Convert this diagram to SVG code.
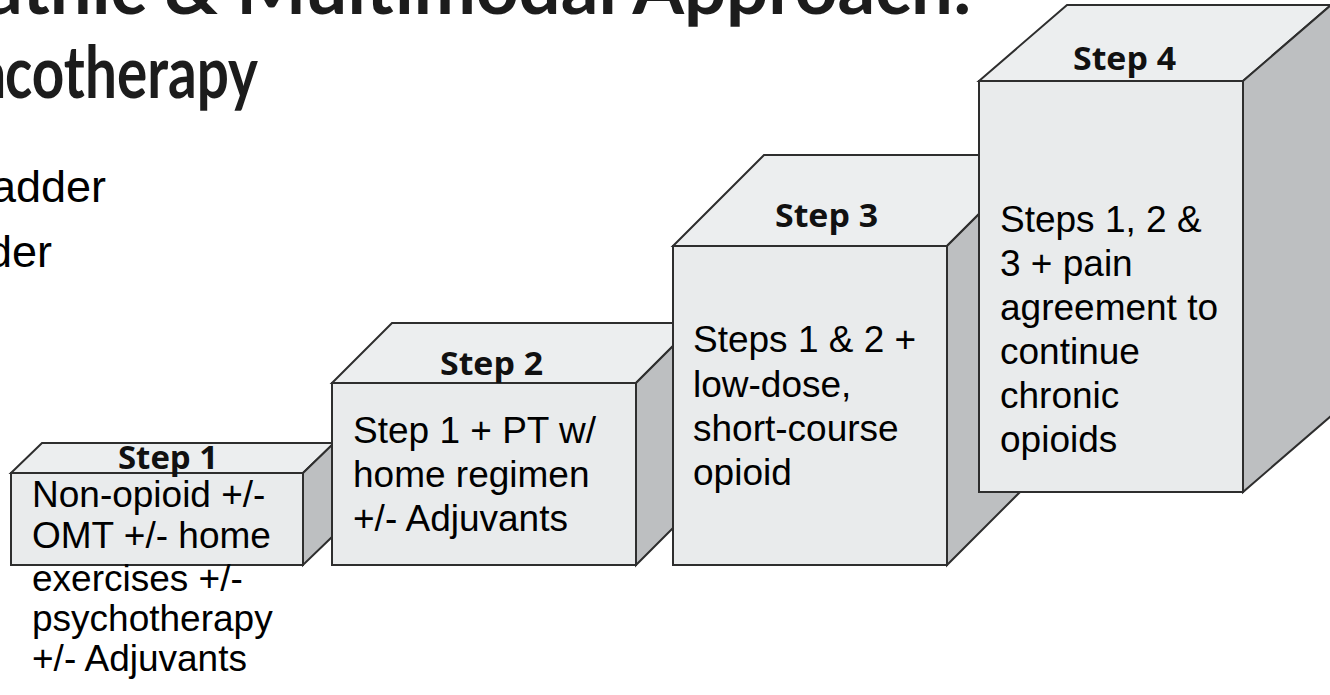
<svg xmlns="http://www.w3.org/2000/svg" width="1330" height="695" viewBox="0 0 1330 695">
<style>
.front{fill:#e9ebec;stroke:#2e2e2e;stroke-width:2;stroke-linejoin:miter}
.top{fill:#eceeef;stroke:#2e2e2e;stroke-width:2;stroke-linejoin:miter}
.side{fill:#bdbfc1;stroke:#2e2e2e;stroke-width:2;stroke-linejoin:miter}
.lbl{font-family:"Open Sans","Noto Sans",sans-serif;font-weight:700;font-size:32px;fill:#111}
.body{font-family:"Liberation Sans",Arial,sans-serif;font-size:37px;fill:#000}
.title{font-family:Lato,"Open Sans",sans-serif;font-weight:700;font-size:72px;fill:#1c1c1c}
.bullet{font-family:"Liberation Sans",Arial,sans-serif;font-size:45px;fill:#000}
</style>
<rect width="1330" height="695" fill="#fff"/>
<g id="title">
<text class="title" x="-15" y="14" textLength="987" lengthAdjust="spacingAndGlyphs">athic &amp; Multimodal Approach:</text>
<text class="title" x="7" y="98" text-anchor="end">a</text>
<text class="title" x="5" y="98" textLength="253" lengthAdjust="spacingAndGlyphs">cotherapy</text>
</g>
<g id="bullets">
<text class="bullet" x="106" y="202" text-anchor="end">adder</text>
<text class="bullet" x="52" y="267" text-anchor="end">der</text>
</g>
<g id="connectors"></g>
<g id="step1">
<polygon class="top" points="11,473 42,443 334,443 303,473"/>
<polygon class="side" points="303,473 334,443 334,535 303,565"/>
<rect class="front" x="11" y="473" width="292" height="92"/>
<text class="lbl" x="118" y="469" textLength="100" lengthAdjust="spacingAndGlyphs">Step 1</text>
<text class="body"><tspan x="32" y="507">Non-opioid +/-</tspan><tspan x="32" y="548">OMT +/- home</tspan><tspan x="32" y="591">exercises +/-</tspan><tspan x="32" y="631">psychotherapy</tspan><tspan x="32" y="671">+/- Adjuvants</tspan></text>
</g>
<g id="step2">
<polygon class="top" points="332,383 392,323 696,323 636,383"/>
<polygon class="side" points="636,383 696,323 696,505 636,565"/>
<rect class="front" x="332" y="383" width="304" height="182"/>
<text class="lbl" x="440" y="375" textLength="103" lengthAdjust="spacingAndGlyphs">Step 2</text>
<text class="body"><tspan x="353" y="443">Step 1 + PT w/</tspan><tspan x="353" y="487">home regimen</tspan><tspan x="353" y="531">+/- Adjuvants</tspan></text>
</g>
<g id="step3">
<polygon class="top" points="673,246 764,155 1038,155 947,246"/>
<polygon class="side" points="947,246 1038,155 1038,474 947,565"/>
<rect class="front" x="673" y="246" width="274" height="319"/>
<text class="lbl" x="775" y="227" textLength="103" lengthAdjust="spacingAndGlyphs">Step 3</text>
<text class="body"><tspan x="693" y="352">Steps 1 &amp; 2 +</tspan><tspan x="693" y="397">low-dose,</tspan><tspan x="693" y="441">short-course</tspan><tspan x="693" y="485">opioid</tspan></text>
</g>
<g id="step4">
<polygon class="top" points="979,81 1067,5 1331,5 1243,81"/>
<polygon class="side" points="1243,81 1331,5 1331,416 1243,492"/>
<rect class="front" x="979" y="81" width="264" height="411"/>
<text class="lbl" x="1073" y="70" textLength="103" lengthAdjust="spacingAndGlyphs">Step 4</text>
<text class="body"><tspan x="1000" y="232">Steps 1, 2 &amp;</tspan><tspan x="1000" y="276">3 + pain</tspan><tspan x="1000" y="320">agreement to</tspan><tspan x="1000" y="364">continue</tspan><tspan x="1000" y="408">chronic</tspan><tspan x="1000" y="452">opioids</tspan></text>
</g>
</svg>
